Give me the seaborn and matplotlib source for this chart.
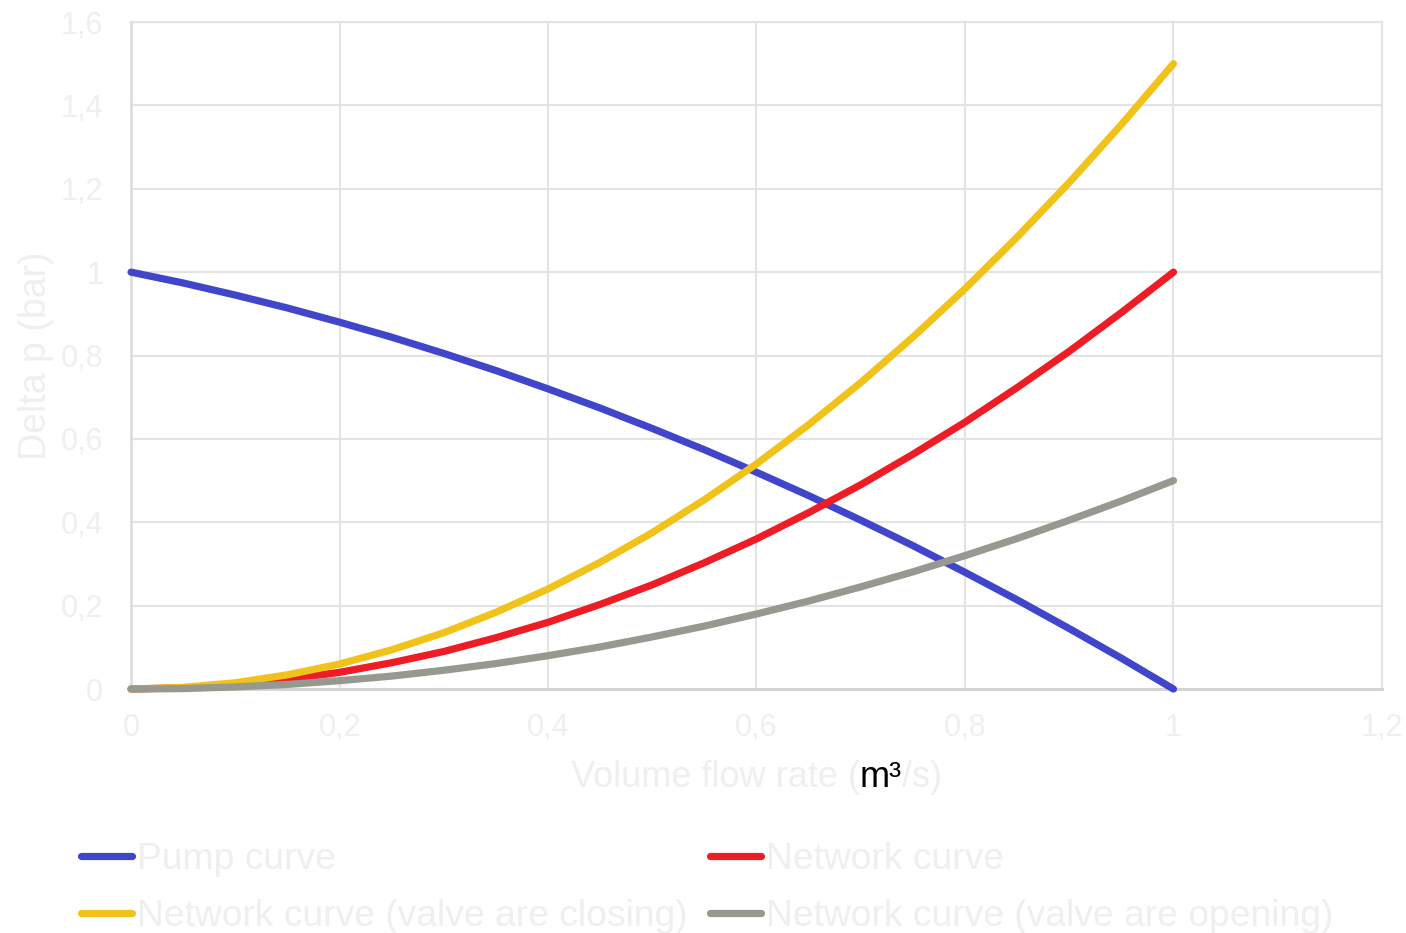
import matplotlib
matplotlib.use("Agg")
import matplotlib.pyplot as plt
from matplotlib.ticker import FuncFormatter, MultipleLocator
from matplotlib.text import Text
from matplotlib.font_manager import FontProperties
import pandas as pd
import seaborn as sns

# Volume flow rate (m³/s)
flow = [0.00, 0.05, 0.10, 0.15, 0.20, 0.25, 0.30, 0.35, 0.40, 0.45, 0.50,
        0.55, 0.60, 0.65, 0.70, 0.75, 0.80, 0.85, 0.90, 0.95, 1.00]

# Delta p (bar) for each curve
pump_curve = [1.000, 0.974, 0.945, 0.914, 0.880, 0.844, 0.805, 0.764, 0.720, 0.674, 0.625,
              0.574, 0.520, 0.464, 0.405, 0.344, 0.280, 0.214, 0.145, 0.074, 0.000]
network_curve = [0.000, 0.003, 0.010, 0.023, 0.040, 0.063, 0.090, 0.123, 0.160, 0.203, 0.250,
                 0.303, 0.360, 0.423, 0.490, 0.563, 0.640, 0.723, 0.810, 0.903, 1.000]
network_closing = [0.000, 0.004, 0.015, 0.034, 0.060, 0.094, 0.135, 0.184, 0.240, 0.304, 0.375,
                   0.454, 0.540, 0.634, 0.735, 0.844, 0.960, 1.084, 1.215, 1.354, 1.500]
network_opening = [0.000, 0.001, 0.005, 0.011, 0.020, 0.031, 0.045, 0.061, 0.080, 0.101, 0.125,
                   0.151, 0.180, 0.211, 0.245, 0.281, 0.320, 0.361, 0.405, 0.451, 0.500]

series_names = ["Pump curve", "Network curve",
                "Network curve (valve are closing)", "Network curve (valve are opening)"]
series_values = [pump_curve, network_curve, network_closing, network_opening]
series_colors = ["#4046CB", "#EE1C25", "#F1C31A", "#979890"]

x_title_parts = ["Volume flow rate (", "m³", "/s)"]
y_title = "Delta p (bar)"

sns.set_theme(style="white")
plt.rcParams["font.family"] = ["Liberation Sans", "DejaVu Sans"]

TEXT = "#EFEFEF"
GRID = "#E3E3E3"

fig = plt.figure(figsize=(14.06, 9.33), dpi=100)
ax = fig.add_axes([0.0932, 0.2615, 0.8897, 0.7149])

for name, vals, col in zip(series_names, series_values, series_colors):
    df = pd.DataFrame({"flow": flow, "dp": vals})
    sns.lineplot(data=df, x="flow", y="dp", ax=ax, color=col, linewidth=5.2,
                 label=name, solid_capstyle="round", clip_on=False, zorder=3)

ax.set_xlim(0, 1.2)
ax.set_ylim(0, 1.6)
ax.xaxis.set_major_locator(MultipleLocator(0.2))
ax.yaxis.set_major_locator(MultipleLocator(0.2))

def comma_fmt(v, pos):
    s = f"{v:.1f}".rstrip("0").rstrip(".")
    return s.replace(".", ",")

ax.xaxis.set_major_formatter(FuncFormatter(comma_fmt))
ax.yaxis.set_major_formatter(FuncFormatter(comma_fmt))
ax.tick_params(axis="both", length=0, labelsize=22, colors=TEXT)
ax.tick_params(axis="x", pad=17)
ax.tick_params(axis="y", pad=20)

ax.grid(True, color=GRID, linewidth=1.5)
ax.set_axisbelow(True)
for side in ["top", "right"]:
    ax.spines[side].set_visible(True)
    ax.spines[side].set_color(GRID)
    ax.spines[side].set_linewidth(1.5)
ax.spines["left"].set_color("#DADADA")
ax.spines["left"].set_linewidth(1.8)
ax.spines["bottom"].set_color("#D2D2D2")
ax.spines["bottom"].set_linewidth(2)

ax.set_xlabel("")
ax.set_ylabel(y_title, fontsize=27, color=TEXT, labelpad=5)

# Legend laid out row by row: first row pump / network, second row the two valve cases
handles, labels = ax.get_legend_handles_labels()
ax.get_legend().remove()
order = [0, 2, 1, 3]
leg = fig.legend([handles[i] for i in order], [labels[i] for i in order],
                 ncol=2, loc="upper left",
                 bbox_to_anchor=(0.0577, 0.097), frameon=False, fontsize=26.8,
                 handlelength=1.37, handletextpad=0.14, columnspacing=0.6,
                 labelspacing=0.57, borderpad=0, borderaxespad=0)
for t in leg.get_texts():
    t.set_color(TEXT)

# x-axis title in three pieces: the unit "m³" is black, the rest light
fp = FontProperties(family=["Liberation Sans", "DejaVu Sans"], size=26)
fig.canvas.draw()
renderer = fig.canvas.get_renderer()
W, H = fig.canvas.get_width_height()

def text_width(s):
    t = Text(0, 0, s, fontproperties=fp)
    t.set_figure(fig)
    return t.get_window_extent(renderer).width

full = "".join(x_title_parts)
ax_bb = ax.get_window_extent(renderer)
x_start = (ax_bb.x0 + ax_bb.x1) / 2 - text_width(full) / 2
y_base = 1 - 787 / 933
offset = 0.0
for part, col in zip(x_title_parts, [TEXT, "black", TEXT]):
    fig.text((x_start + offset) / W, y_base, part, ha="left", va="baseline",
             fontproperties=fp, color=col)
    offset += text_width(part)

fig.savefig("out.png", dpi=100)
